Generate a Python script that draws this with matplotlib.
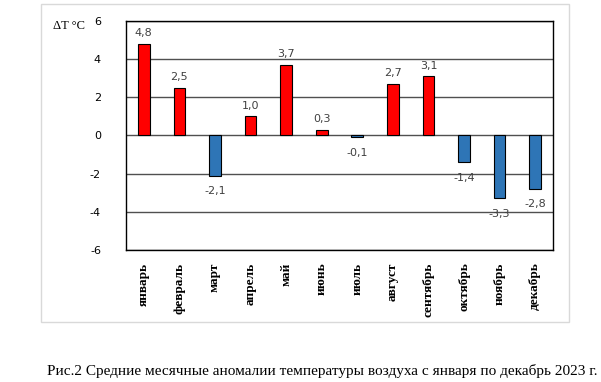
import matplotlib.pyplot as plt
from matplotlib.patches import Rectangle

months = ['январь', 'февраль', 'март', 'апрель', 'май', 'июнь', 'июль',
          'август', 'сентябрь', 'октябрь', 'ноябрь', 'декабрь']
anomalies = [4.8, 2.5, -2.1, 1.0, 3.7, 0.3, -0.1, 2.7, 3.1, -1.4, -3.3, -2.8]
yticks = [-6, -4, -2, 0, 2, 4, 6]

fig = plt.figure(figsize=(6.01, 3.82), dpi=100)
fig.patches.append(Rectangle((41 / 601, 1 - 322 / 382), (569 - 41) / 601, (322 - 4) / 382,
                             transform=fig.transFigure, fill=False,
                             edgecolor='#d9d9d9', linewidth=1))

ax = fig.add_axes([126 / 601, 1 - 250 / 382, (553 - 126) / 601, (250 - 21) / 382])
x = range(len(months))
colors = ['red' if v > 0 else '#2e75b6' for v in anomalies]
ax.bar(x, anomalies, width=0.33, color=colors, edgecolor='black', linewidth=0.8, zorder=3)

for i, v in enumerate(anomalies):
    label = f'{v:.1f}'.replace('.', ',')
    if v >= 0:
        ax.text(i, v + 0.3, label, ha='center', va='bottom', fontsize=8, color='#404040')
    else:
        ax.text(i, v - 0.55, label, ha='center', va='top', fontsize=8, color='#404040')

ax.set_xlim(-0.5, len(months) - 0.5)
ax.set_ylim(-6, 6)
ax.set_yticks(yticks)
ax.set_yticklabels([str(t) for t in yticks], fontsize=8)
ax.yaxis.grid(True, color='#505050', linewidth=1, zorder=0)
ax.set_axisbelow(True)
ax.tick_params(axis='y', length=0, pad=18)
ax.tick_params(axis='x', length=0, pad=9)
ax.set_xticks(list(x))
ax.set_xticklabels(months, rotation=90, fontsize=9.5, fontweight='bold',
                   family='Liberation Serif', va='top')
for s in ax.spines.values():
    s.set_color('black')
    s.set_linewidth(1)

fig.text(53 / 601, 1 - 26 / 382, 'ΔT °C', fontsize=9, family='Liberation Serif',
         va='center', ha='left')

fig.text(322 / 601, 1 - 371 / 382,
         'Рис.2 Средние месячные аномалии температуры воздуха с января по декабрь 2023 г.',
         fontsize=11, family='Liberation Serif', ha='center', va='center')

fig.savefig('out.png', dpi=100)
